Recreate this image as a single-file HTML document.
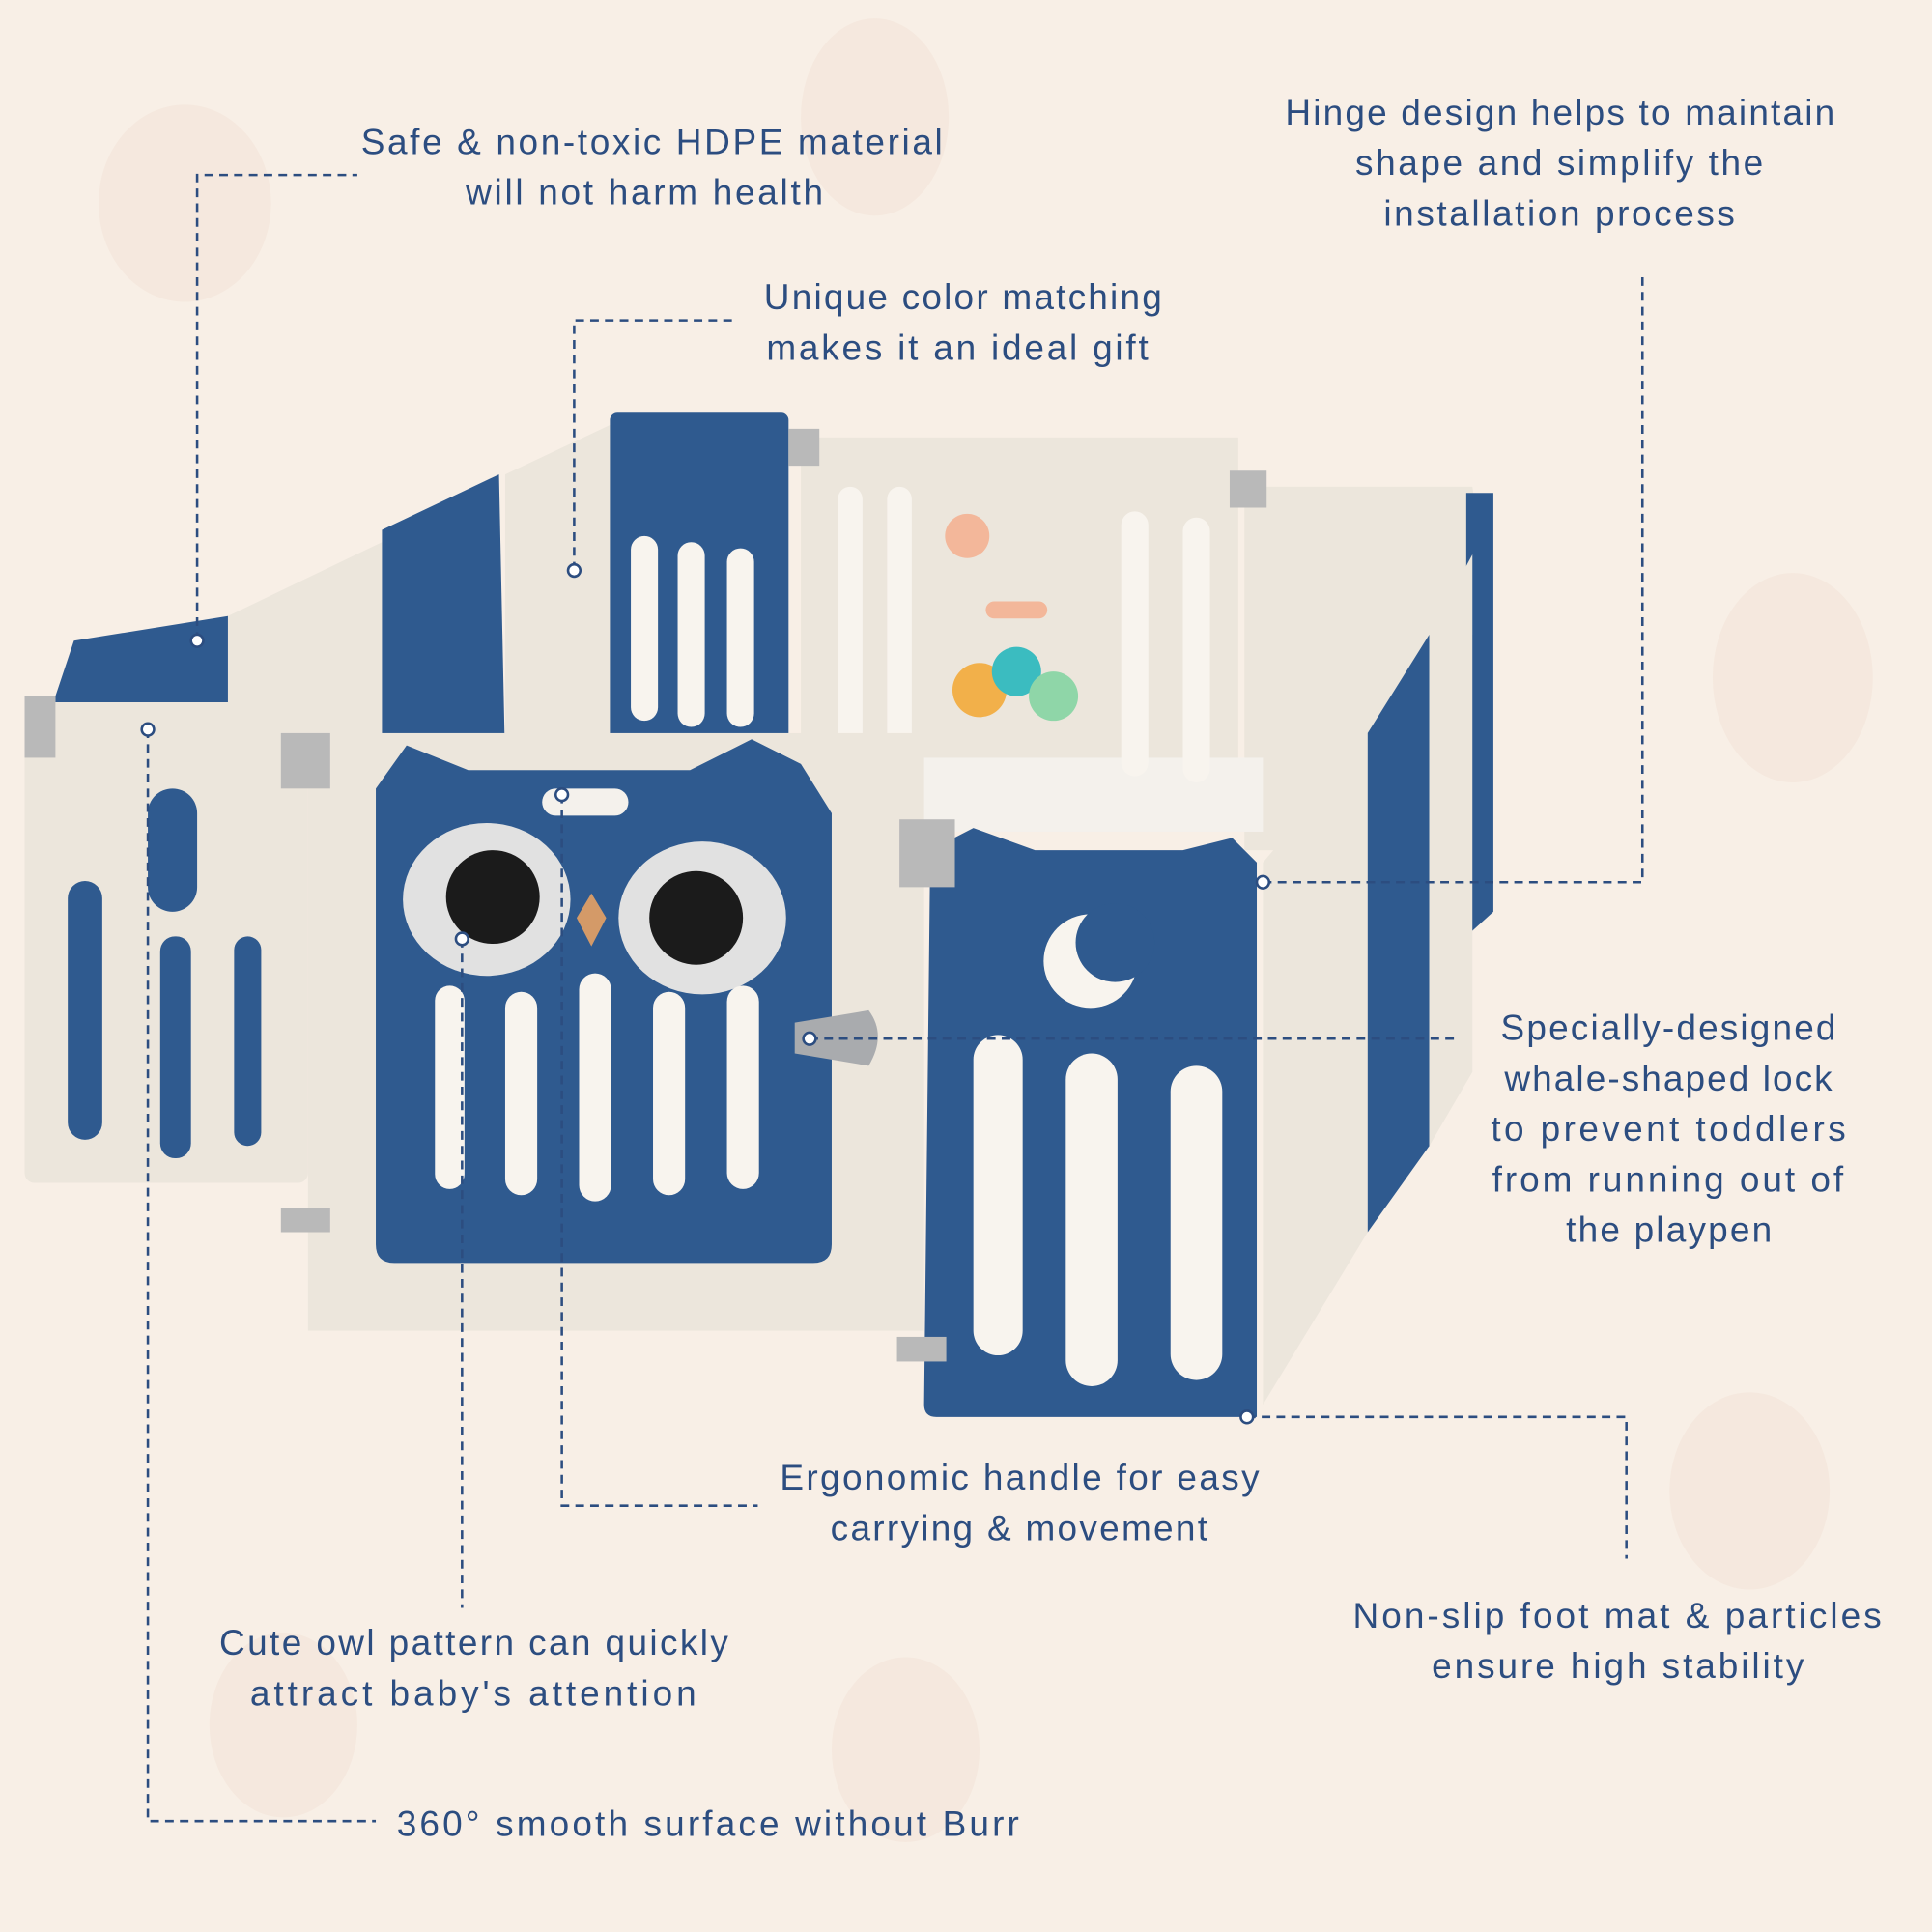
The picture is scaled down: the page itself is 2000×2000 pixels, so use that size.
<!DOCTYPE html>
<html><head><meta charset="utf-8"><style>
html,body{margin:0;padding:0;background:#f8efe6;}
svg{display:block;}
text{font-family:"Liberation Sans",sans-serif;fill:#2c4d80;font-size:29px;}
</style></head><body>
<svg width="2000" height="2000" viewBox="0 0 1568 1568" xmlns="http://www.w3.org/2000/svg">
<rect width="1568" height="1568" fill="#f8efe6"/>
<g fill="#f3e6da" opacity="0.7">
<ellipse cx="150" cy="165" rx="70" ry="80"/><ellipse cx="710" cy="95" rx="60" ry="80"/>
<ellipse cx="1455" cy="550" rx="65" ry="85"/><ellipse cx="1420" cy="1210" rx="65" ry="80"/>
<ellipse cx="735" cy="1420" rx="60" ry="75"/><ellipse cx="230" cy="1400" rx="60" ry="75"/>
</g>
<g>
<polygon points="45,565 60,520 185,500 185,600 45,600" fill="#2f5a8f"/>
<polygon points="185,500 310,440 310,620 185,620" fill="#ece6dc"/>
<polygon points="310,430 405,385 410,620 310,620" fill="#2f5a8f"/>
<polygon points="410,385 495,345 495,620 410,620" fill="#ece6dc"/>
<rect x="495" y="335" width="145" height="280" fill="#2f5a8f" rx="6"/>
<rect x="650" y="355" width="355" height="295" fill="#ece6dc"/>
<polygon points="1010,395 1195,395 1200,430 1200,690 1010,690" fill="#ece6dc"/>
<polygon points="1190,400 1212,400 1212,740 1190,760" fill="#2f5a8f"/>
<rect x="495" y="615" width="530" height="60" fill="#f4f1ec"/>
<g fill="#f8f4ee">
<rect x="512" y="435" width="22" height="150" rx="11"/><rect x="550" y="440" width="22" height="150" rx="11"/><rect x="590" y="445" width="22" height="145" rx="11"/>
<rect x="680" y="395" width="20" height="230" rx="10"/><rect x="720" y="395" width="20" height="230" rx="10"/>
<rect x="910" y="415" width="22" height="215" rx="11"/><rect x="960" y="420" width="22" height="215" rx="11"/>
</g>
<circle cx="795" cy="560" r="22" fill="#f2b04a"/><circle cx="825" cy="545" r="20" fill="#3bbcc0"/><circle cx="855" cy="565" r="20" fill="#8fd6a8"/>
<circle cx="785" cy="435" r="18" fill="#f3b79a"/><rect x="800" y="488" width="50" height="14" rx="7" fill="#f3b79a"/>
</g>
<polygon points="1025,700 1110,600 1110,1000 1025,1140" fill="#ece6dc"/>
<polygon points="1110,595 1160,515 1160,930 1110,1000" fill="#2f5a8f"/>
<polygon points="1160,515 1195,450 1195,870 1160,930" fill="#ece6dc"/>
<rect x="20" y="570" width="230" height="390" fill="#ece6dc" rx="8"/>
<g fill="#2f5a8f"><rect x="55" y="715" width="28" height="210" rx="14"/><rect x="120" y="640" width="40" height="100" rx="20"/><rect x="130" y="760" width="25" height="180" rx="12"/><rect x="190" y="760" width="22" height="170" rx="11"/></g>
<rect x="250" y="595" width="500" height="485" fill="#ece6dc"/>
<path d="M305,640 L330,605 L380,625 L560,625 L610,600 L650,620 L675,660 L675,1010 Q675,1025 660,1025 L320,1025 Q305,1025 305,1010 Z" fill="#2f5a8f"/>
<ellipse cx="395" cy="730" rx="68" ry="62" fill="#e1e1e1"/><ellipse cx="400" cy="728" rx="38" ry="38" fill="#1b1b1b"/>
<ellipse cx="570" cy="745" rx="68" ry="62" fill="#e1e1e1"/><ellipse cx="565" cy="745" rx="38" ry="38" fill="#1b1b1b"/>
<polygon points="480,725 492,745 480,768 468,745" fill="#d49a68"/>
<rect x="440" y="640" width="70" height="22" rx="11" fill="#f4f1ec"/>
<g fill="#f8f4ee">
<rect x="353" y="800" width="24" height="165" rx="12"/><rect x="410" y="805" width="26" height="165" rx="13"/><rect x="470" y="790" width="26" height="185" rx="13"/><rect x="530" y="805" width="26" height="165" rx="13"/><rect x="590" y="800" width="26" height="165" rx="13"/>
</g>
<path d="M645,830 L705,820 Q720,840 705,865 L645,855 Z" fill="#a9abae"/>
<path d="M755,690 L790,672 L840,690 L960,690 L1000,680 L1020,700 L1020,1150 L760,1150 Q750,1150 750,1140 Z" fill="#2f5a8f"/>
<circle cx="885" cy="780" r="38" fill="#f8f4ee"/><circle cx="905" cy="765" r="32" fill="#2f5a8f"/>
<g fill="#f8f4ee">
<rect x="790" y="840" width="40" height="260" rx="20"/><rect x="865" y="855" width="42" height="270" rx="21"/><rect x="950" y="865" width="42" height="255" rx="21"/>
</g>
<g fill="#b9b9b9"><rect x="730" y="665" width="45" height="55"/><rect x="228" y="595" width="40" height="45"/><rect x="20" y="565" width="25" height="50"/><rect x="640" y="348" width="25" height="30"/><rect x="998" y="382" width="30" height="30"/><rect x="728" y="1085" width="40" height="20"/><rect x="228" y="980" width="40" height="20"/></g>
<g fill="none" stroke="#2c4d80" stroke-width="2" stroke-dasharray="7,5">
<polyline points="160,520 160,142 290,142"/>
<polyline points="466,463 466,260 598,260"/>
<polyline points="1025,716 1333,716 1333,220"/>
<polyline points="657,843 1185,843"/>
<polyline points="1012,1150 1320,1150 1320,1265"/>
<polyline points="456,645 456,1222 615,1222"/>
<polyline points="375,762 375,1305"/>
<polyline points="120,592 120,1478 305,1478"/>
</g>
<g fill="#fff" stroke="#2c4d80" stroke-width="2">
<circle cx="160" cy="520" r="5"/><circle cx="466" cy="463" r="5"/><circle cx="1025" cy="716" r="5"/><circle cx="657" cy="843" r="5"/><circle cx="1012" cy="1150" r="5"/><circle cx="456" cy="645" r="5"/><circle cx="375" cy="762" r="5"/><circle cx="120" cy="592" r="5"/>
</g>
<text x="293" y="125" textLength="472">Safe &amp; non-toxic HDPE material</text>
<text x="378" y="166" textLength="290">will not harm health</text>
<text x="620" y="251" textLength="323">Unique color matching</text>
<text x="622" y="292" textLength="310">makes it an ideal gift</text>
<text x="1043" y="101" textLength="446">Hinge design helps to maintain</text>
<text x="1100" y="142" textLength="331">shape and simplify the</text>
<text x="1123" y="183" textLength="285">installation process</text>
<text x="1218" y="844" textLength="272">Specially-designed</text>
<text x="1221" y="885" textLength="266">whale-shaped lock</text>
<text x="1210" y="926" textLength="288">to prevent toddlers</text>
<text x="1211" y="967" textLength="285">from running out of</text>
<text x="1271" y="1008" textLength="167">the playpen</text>
<text x="633" y="1209" textLength="389">Ergonomic handle for easy</text>
<text x="674" y="1250" textLength="306">carrying &amp; movement</text>
<text x="1098" y="1321" textLength="429">Non-slip foot mat &amp; particles</text>
<text x="1162" y="1362" textLength="302">ensure high stability</text>
<text x="178" y="1343" textLength="413">Cute owl pattern can quickly</text>
<text x="203" y="1384" textLength="362">attract baby's attention</text>
<text x="322" y="1490" textLength="505">360° smooth surface without Burr</text>
</svg>
</body></html>
